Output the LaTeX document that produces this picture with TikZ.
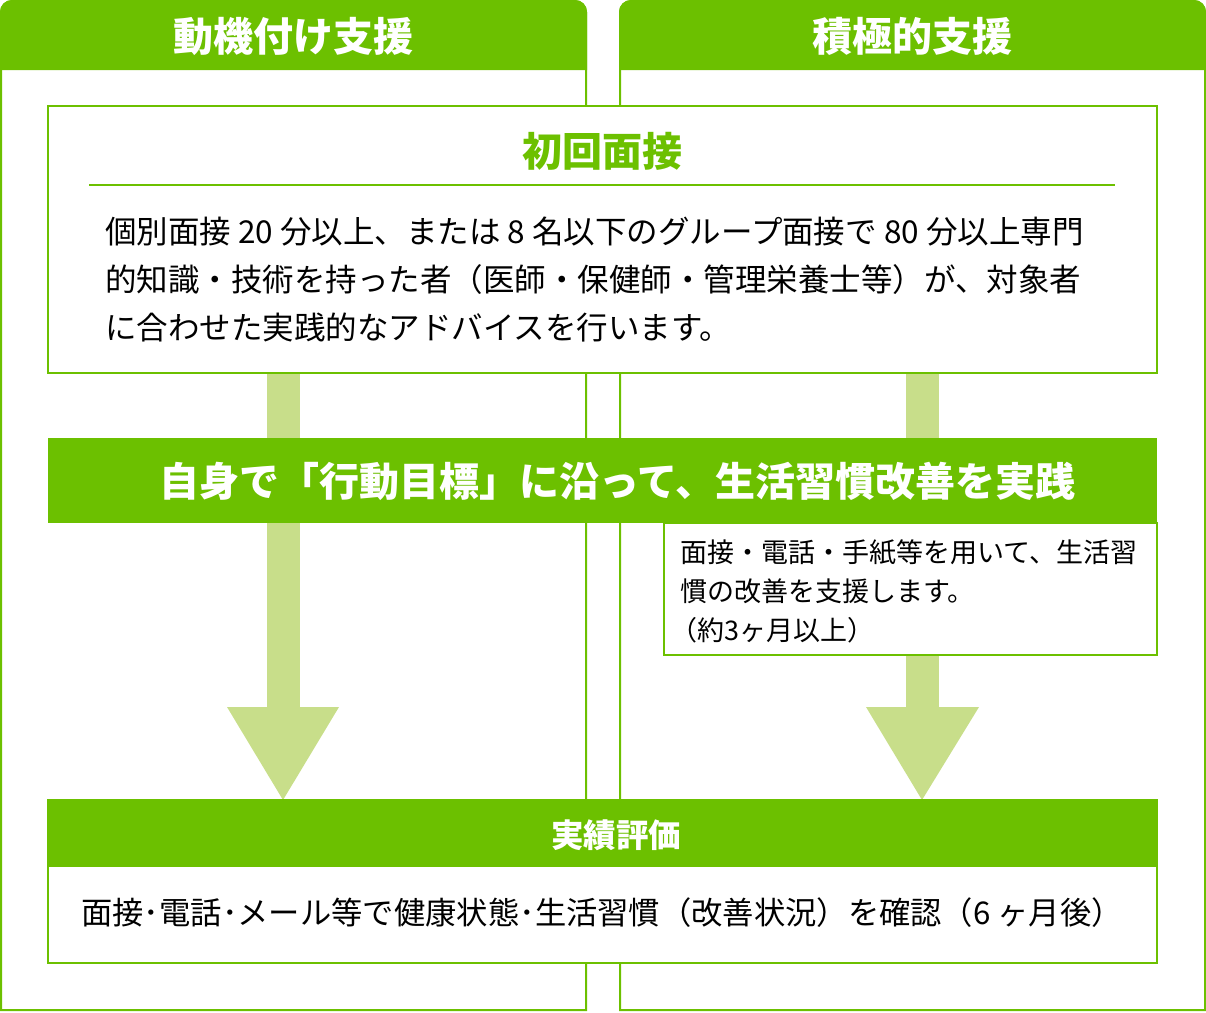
\documentclass[tikz,border=0pt]{standalone}
\usepackage{fontspec}
\setmainfont{Noto Sans CJK JP}
\definecolor{gr}{HTML}{6CC000}
\definecolor{lg}{HTML}{C8DE8A}
\tikzset{frame/.style={draw=gr,line width=2pt},
 boxw/.style={draw=gr,line width=2pt,fill=white},
 htext/.style={text=white,font=\bfseries\fontsize{40}{44}\selectfont},
 body/.style={anchor=west,font=\fontsize{31.5}{34}\selectfont,inner sep=0},
 small/.style={anchor=west,font=\fontsize{27}{30}\selectfont,inner sep=0}}
\begin{document}
\begin{tikzpicture}[x=1pt,y=-1pt]
\useasboundingbox (0,0) rectangle (1206,1012);
% columns
\draw[frame] (1,1010) -- (1,12) arc(180:270:11) -- (575,1) arc(270:360:11) -- (586,1010) -- cycle;
\fill[gr] (0,70) -- (0,12) arc(180:270:12) -- (575,0) arc(270:360:12) -- (587,70) -- cycle;
\node[htext] (h1) at (293,36) {動機付け支援};
\draw[frame] (620,1010) -- (620,12) arc(180:270:11) -- (1194,1) arc(270:360:11) -- (1205,1010) -- cycle;
\fill[gr] (619,70) -- (619,12) arc(180:270:12) -- (1194,0) arc(270:360:12) -- (1206,70) -- cycle;
\node[htext] (h2) at (912,36) {積極的支援};
% arrows
\fill[lg] (267,373) rectangle (300,708);
\fill[lg] (227,707) -- (339,707) -- (283,800) -- cycle;
\fill[lg] (906,373) rectangle (939,708);
\fill[lg] (866,707) -- (979,707) -- (922,800) -- cycle;
% first box
\draw[boxw] (48,106) rectangle (1157,373);
\node[text=gr,font=\bfseries\fontsize{40}{44}\selectfont] (t1) at (602,151) {初回面接};
\draw[gr,line width=1.2pt] (89,185) -- (1115,185);
\node[body] (l1) at (105,232) {個別面接 20 分以上、または 8 名以下のグループ面接で 80 分以上専門};
\node[body] (l2) at (105,280) {的知識・技術を持った者（医師・保健師・管理栄養士等）が、対象者};
\node[body] (l3) at (105,328) {に合わせた実践的なアドバイスを行います。};
% banner
\fill[gr] (48,438) rectangle (1157,523);
\node[htext] (b) at (617,481) {自身で「行動目標」に沿って、生活習慣改善を実践};
% right box
\draw[boxw] (664,523) rectangle (1157,655);
\node[small] (s1) at (680,552) {面接・電話・手紙等を用いて、生活習};
\node[small] (s2) at (680,591) {慣の改善を支援します。};
\node[small] (s3) at (670,630) {（約3ヶ月以上）};
% bottom
\draw[boxw] (48,800) rectangle (1157,963);
\fill[gr] (47,799) rectangle (1158,867);
\node[text=white,font=\bfseries\fontsize{32.5}{36}\selectfont] (e) at (616,835) {実績評価};
\node[font=\fontsize{31.3}{34}\selectfont] (et) at (602,913) {面接･電話･メール等で健康状態･生活習慣（改善状況）を確認（6 ヶ月後）};
\end{tikzpicture}
\end{document}
